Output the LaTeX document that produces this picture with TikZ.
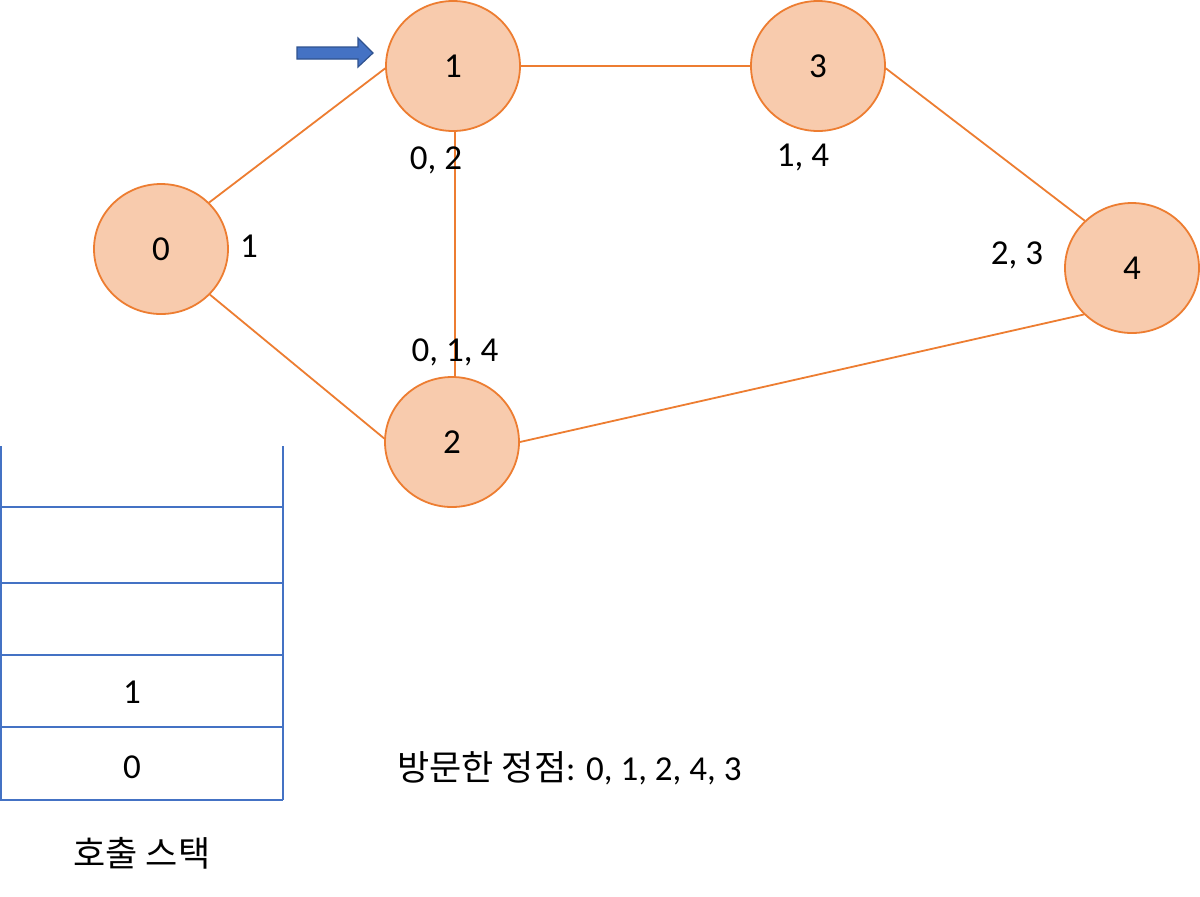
\documentclass[tikz,border=0pt]{standalone}
\usepackage{fontspec}
\setmainfont{Carlito}
\newfontfamily\krfont{Noto Sans CJK KR}
\usetikzlibrary{shapes.geometric}
\definecolor{nodefill}{HTML}{F8CBAD}
\definecolor{nodeline}{HTML}{ED7D31}
\definecolor{stackblue}{HTML}{4472C4}
\definecolor{arrowline}{HTML}{2F528F}
\begin{document}
\begin{tikzpicture}[x=0.5pt,y=-0.5pt,
  vertex/.style={ellipse,draw=nodeline,fill=nodefill,line width=0.9pt,minimum width=67pt,minimum height=65pt,inner sep=0pt,font=\fontsize{17.5}{20}\selectfont},
  lbl/.style={font=\fontsize{17.5}{20}\selectfont,inner sep=0pt},
  edge/.style={draw=nodeline,line width=0.9pt},
  stackline/.style={draw=stackblue,line width=1.3pt}]
\useasboundingbox (0,0) rectangle (1200,896);
\fill[white] (0,0) rectangle (1200,896);
\node[vertex] (n0) at (161,249) {0};
\node[vertex] (n1) at (453,66) {1};
\node[vertex] (n3) at (818,66) {3};
\node[vertex] (n4) at (1132,268) {4};
\node[vertex] (n2) at (452,442) {2};
\draw[edge] (n0.44) -- (n1.182);
\draw[edge] (n0.-43) -- (n2.177);
\draw[edge] (n1.east) -- (n3.west);
\draw[edge] (n1.-88) -- (n1.-88 |- n2.north);
\draw[edge] (n3.-2) -- (n4.135);
\draw[edge] (n2.east) -- (n4.224);
% labels
\node[lbl] (l0) at (249,246) {1};
\node[lbl] (l1) at (436,160) {0, 2};
\node[lbl] (l3) at (803,157) {1, 4};
\node[lbl] (l4) at (1017,255) {2, 3};
\node[lbl] (l2) at (455,352) {0, 1, 4};
% pointer arrow
\filldraw[fill=stackblue,draw=arrowline,line width=0.6pt]
  (297,47) -- (358,47) -- (358,38) -- (373,53) -- (358,67) -- (358,59) -- (297,59) -- cycle;
% stack
\draw[stackline] (1,446) -- (1,800);
\draw[stackline] (283,446) -- (283,800);
\foreach \yy in {507,583,655,727,800} \draw[stackline] (0,\yy) -- (283,\yy);
\node[lbl] (s1) at (132,692) {1};
\node[lbl] (s0) at (132,767) {0};
\node[lbl] (stk) at (142,853) {\krfont 호출 스택};
\node[lbl,anchor=west] (vis) at (397,768) {{\krfont 방문한 정점}: 0, 1, 2, 4, 3};
\end{tikzpicture}
\end{document}
